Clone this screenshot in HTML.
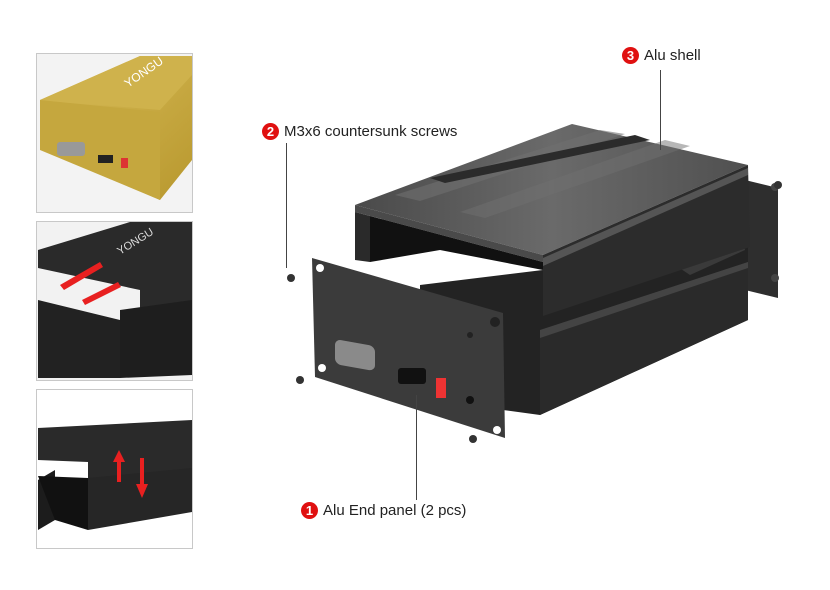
<!DOCTYPE html>
<html><head><meta charset="utf-8"><style>
body{margin:0;background:#fff;width:830px;height:590px;overflow:hidden;font-family:"Liberation Sans",Arial,sans-serif}
.lbl{position:absolute;font-size:15px;color:#222;display:flex;align-items:center}
.n{display:inline-block;width:17px;height:17px;border-radius:50%;background:#e01010;color:#fff;font-size:13px;font-weight:bold;text-align:center;line-height:17px;margin-right:5px}
</style></head><body>
<svg width="830" height="590" style="position:absolute;left:0;top:0">
<defs>
<linearGradient id="gold" x1="0" y1="0" x2="1" y2="1"><stop offset="0" stop-color="#d9bd5a"/><stop offset="1" stop-color="#b8982e"/></linearGradient>
<linearGradient id="topf" x1="0" y1="0" x2="1" y2="0"><stop offset="0" stop-color="#4a4a4a"/><stop offset=".5" stop-color="#6a6a6a"/><stop offset="1" stop-color="#505050"/></linearGradient>
</defs>
<!-- thumbnails -->
<rect x="36.5" y="53.5" width="156" height="159" fill="#f3f3f3" stroke="#c8c8c8"/>
<polygon points="40,100 140,56 192,56 192,160 160,200 40,148" fill="url(#gold)"/>
<polygon points="40,100 140,56 192,56 192,75 160,110" fill="#cfb24c"/>
<polygon points="40,100 160,112 160,200 40,150" fill="#c5a73e"/>
<rect x="57" y="142" width="28" height="14" rx="3" fill="#999"/>
<rect x="98" y="155" width="15" height="8" fill="#222"/>
<rect x="121" y="158" width="7" height="10" fill="#d33"/>
<text x="128" y="88" font-size="12" fill="#fff" transform="rotate(-35 128 88)">YONGU</text>
<rect x="36.5" y="221.5" width="156" height="159" fill="#f2f2f2" stroke="#c8c8c8"/>
<polygon points="38,250 130,222 192,222 192,320 140,330 140,290 38,268" fill="#2a2a2a"/>
<polygon points="38,300 120,320 120,378 38,378" fill="#222"/>
<polygon points="120,310 192,300 192,375 120,378" fill="#1e1e1e"/>
<polygon points="60,285 100,262 103,267 64,290" fill="#e82020"/>
<polygon points="82,300 118,282 121,287 85,305" fill="#e82020"/>
<text x="120" y="255" font-size="11" fill="#ddd" transform="rotate(-32 120 255)">YONGU</text>
<rect x="36.5" y="389.5" width="156" height="159" fill="#fff" stroke="#c8c8c8"/>
<polygon points="38,428 192,420 192,470 88,482 88,462 38,460" fill="#2a2a2a"/>
<polygon points="88,478 192,468 192,512 88,530" fill="#262626"/>
<polygon points="38,480 55,470 55,520 38,530" fill="#1c1c1c"/>
<polygon points="38,476 88,478 88,530 55,520" fill="#111"/>
<rect x="117" y="460" width="4" height="22" fill="#e82020"/><polygon points="113,462 125,462 119,450" fill="#e82020"/>
<rect x="140" y="458" width="4" height="28" fill="#e82020"/><polygon points="136,484 148,484 142,498" fill="#e82020"/>
<!-- main: back panel -->
<polygon points="745,180 778,188 778,298 745,290" fill="#2e2e2e"/>
<circle cx="775" cy="187" r="4" fill="#444"/><circle cx="775" cy="278" r="4" fill="#444"/>
<!-- lower body -->
<polygon points="420,285 748,245 748,320 540,415 503,410 420,400" fill="#232323"/>
<polygon points="540,330 748,262 748,320 540,415" fill="#2a2a2a"/>
<polygon points="540,330 748,262 748,268 540,338" fill="#444"/>
<polygon points="660,255 740,225 745,250 690,275" fill="#3a3a3a"/>
<!-- top shell -->
<polygon points="355,205 572,124 748,165 543,255" fill="url(#topf)"/>
<polygon points="395,195 600,130 625,134 420,201" fill="#707070" opacity=".6"/>
<polygon points="460,212 665,140 690,146 485,218" fill="#707070" opacity=".5"/>
<polygon points="430,178 635,135 650,140 445,183" fill="#2b2b2b"/>
<polygon points="355,205 543,255 543,262 355,212" fill="#4a4a4a"/>
<polygon points="355,212 370,216 370,262 355,260" fill="#2a2a2a"/>
<polygon points="370,216 543,262 543,270 440,250 370,262" fill="#111"/>
<polygon points="543,255 748,165 750,247 543,316" fill="#2c2c2c"/>
<polygon points="543,258 748,168 748,175 543,266" fill="#555"/>
<!-- front panel -->
<polygon points="312,258 503,313 505,438 315,377" fill="#3b3b3b"/>
<circle cx="320" cy="268" r="4" fill="#fff"/><circle cx="495" cy="322" r="5" fill="#222"/>
<circle cx="322" cy="368" r="4" fill="#fff"/><circle cx="497" cy="430" r="4" fill="#fff"/>
<rect x="335" y="340" width="40" height="25" rx="6" fill="#8a8a8a" transform="skewY(10) translate(0,-60)"/>
<rect x="398" y="368" width="28" height="16" rx="3" fill="#111"/>
<rect x="436" y="378" width="10" height="20" fill="#e33"/>
<circle cx="470" cy="400" r="4" fill="#111"/><circle cx="470" cy="335" r="3" fill="#222"/>
<!-- screws -->
<circle cx="291" cy="278" r="4" fill="#333"/><circle cx="300" cy="380" r="4" fill="#333"/>
<circle cx="473" cy="439" r="4" fill="#333"/><circle cx="778" cy="185" r="4" fill="#333"/>
<!-- leader lines -->
<line x1="660.5" y1="70" x2="660.5" y2="150" stroke="#444"/>
<line x1="286.5" y1="143" x2="286.5" y2="268" stroke="#444"/>
<line x1="416.5" y1="395" x2="416.5" y2="500" stroke="#444"/>
</svg>
<div class="lbl" style="left:622px;top:47px"><span class="n">3</span>Alu shell</div>
<div class="lbl" style="left:262px;top:123px"><span class="n">2</span>M3x6 countersunk screws</div>
<div class="lbl" style="left:301px;top:502px"><span class="n">1</span>Alu End panel (2 pcs)</div>
</body></html>
